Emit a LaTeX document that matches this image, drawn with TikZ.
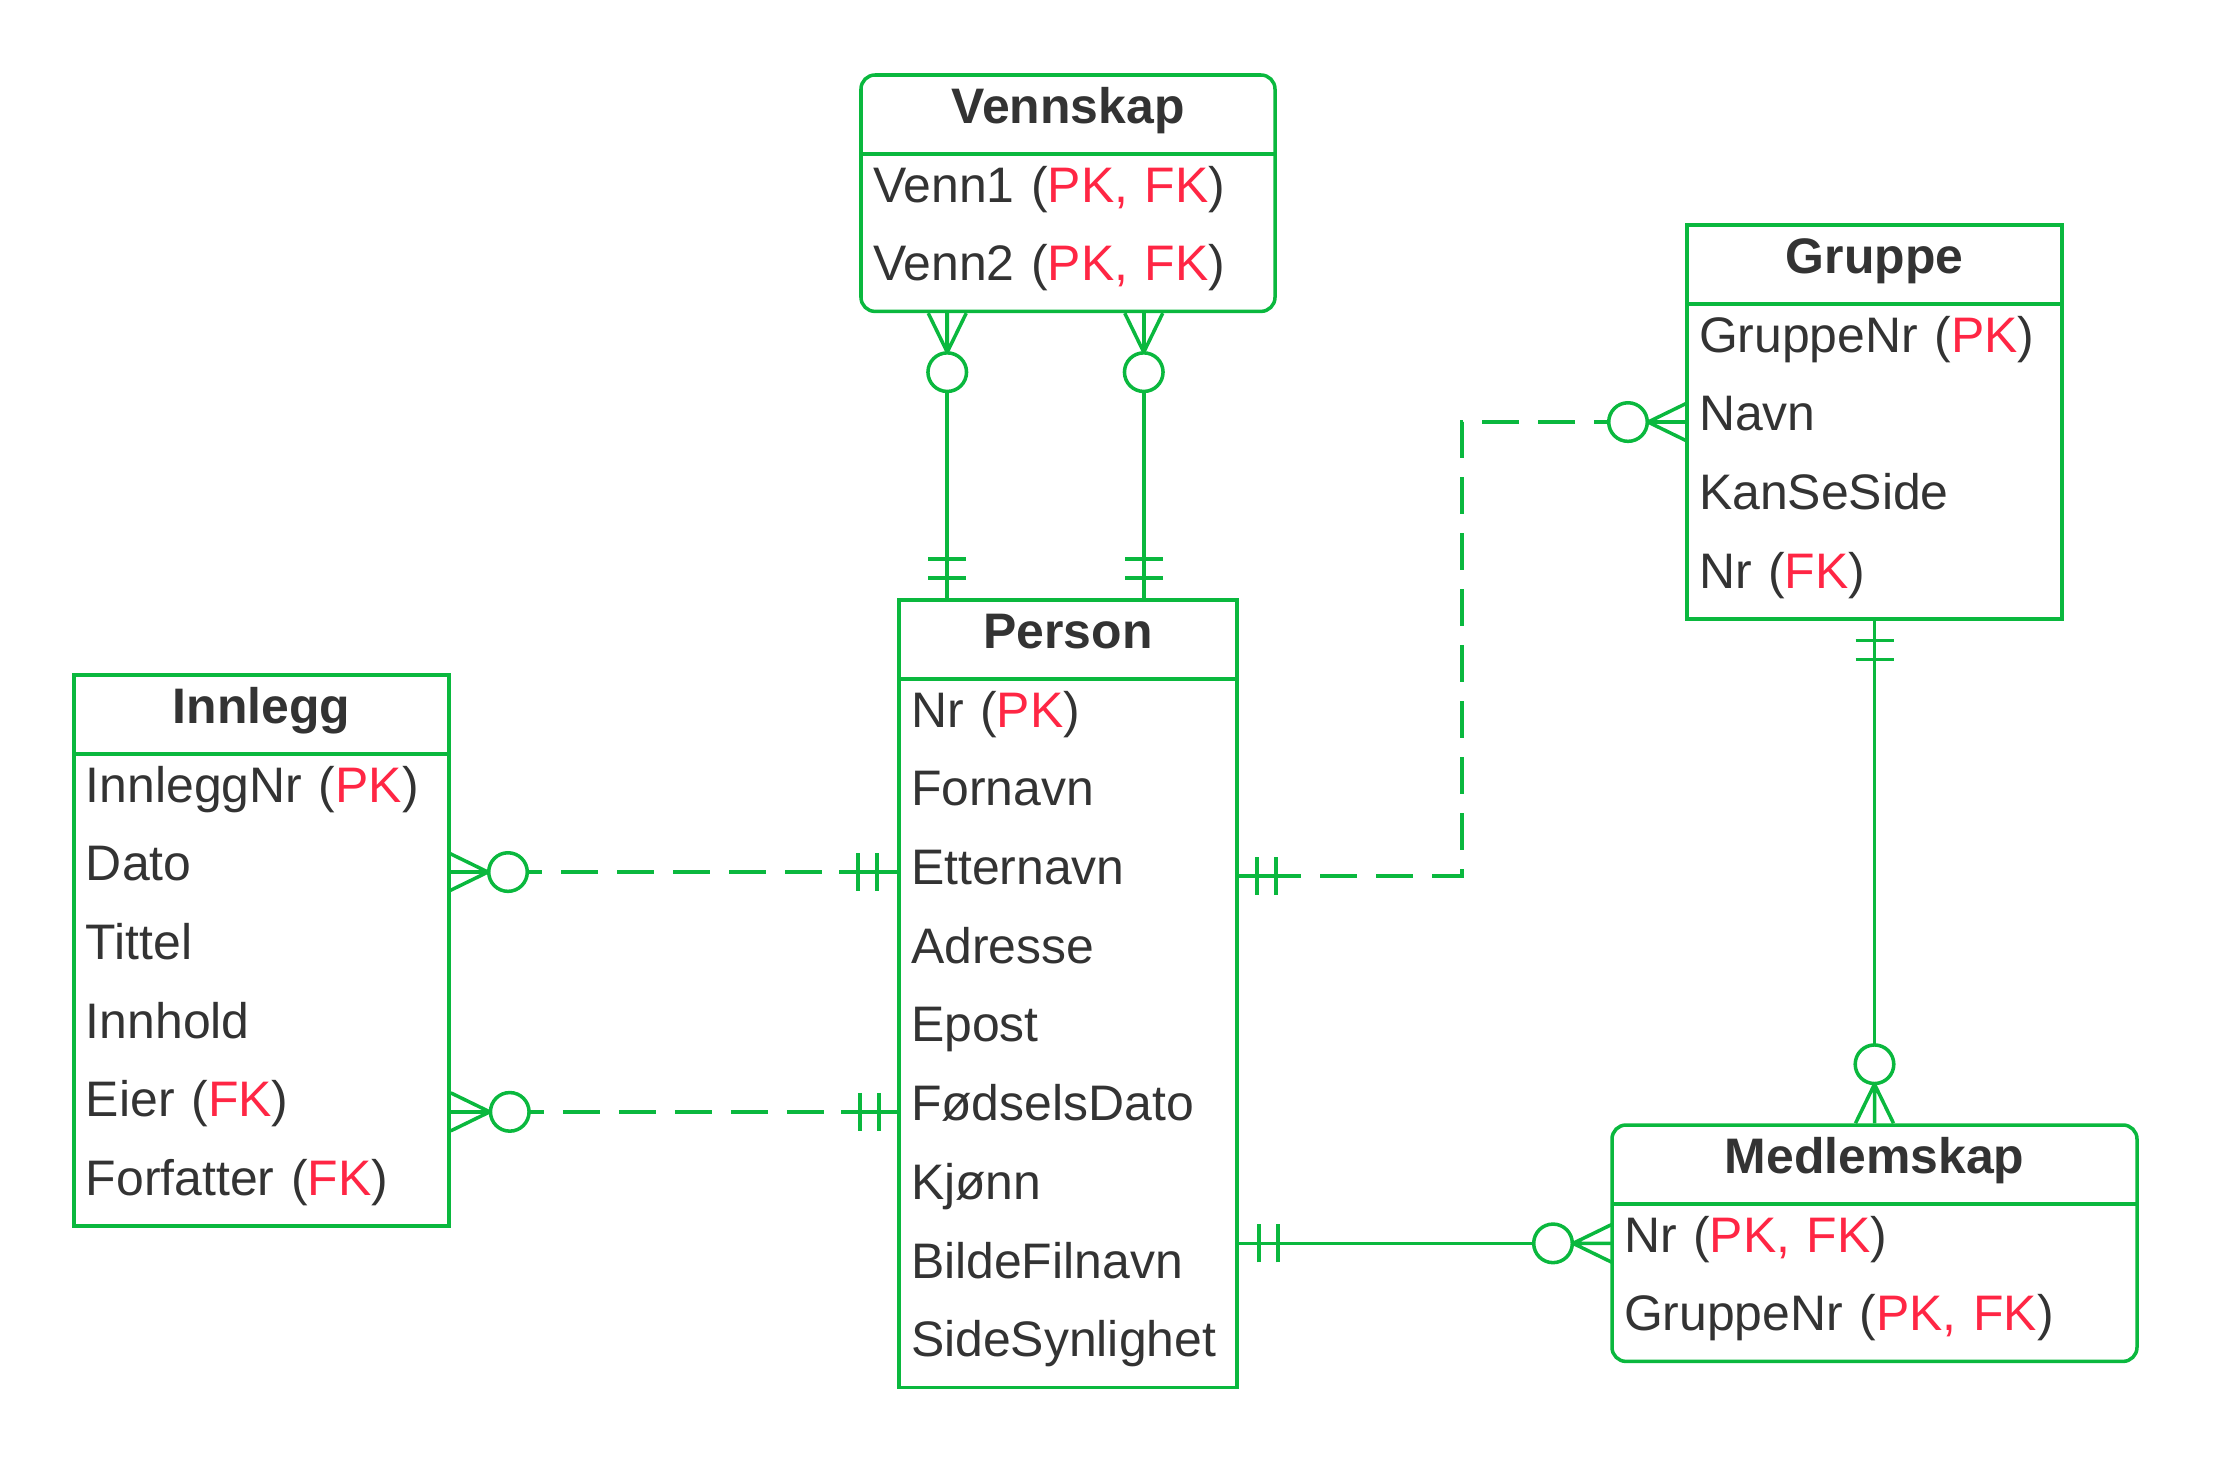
\documentclass[tikz,border=0pt]{standalone}
\usepackage{fontspec}
\setmainfont{Liberation Sans}
\usetikzlibrary{positioning, fit, calc}

\definecolor{ergreen}{RGB}{10,184,62}
\definecolor{keyred}{RGB}{255,38,68}
\definecolor{ertext}{RGB}{51,51,51}
\newcommand{\kred}[1]{\textcolor{keyred}{#1}}

\begin{document}
\begin{tikzpicture}[
    % Styles
    erline/.style={ % Box outlines and connectors
        draw=ergreen,
        line width=1pt
    },
    erdash/.style={ % Non-identifying relations
        dash pattern=on 0.37cm off 0.19cm
    },
    head/.style={ % Entity title
        minimum width=#1,
        minimum height=0.79cm,
        inner sep=0pt,
        outer sep=0pt,
        text=ertext,
        text height=0.75em,
        text depth=0.25em,
        font=\fontsize{14.2}{17}\selectfont\bfseries
    },
    attr/.style={ % One attribute row
        text width=#1,
        inner xsep=0.12cm,
        inner ysep=0pt,
        outer sep=0pt,
        minimum height=0.787cm,
        align=left,
        text=ertext,
        text height=0.75em,
        text depth=0.25em,
        font=\fontsize{14.2}{17}\selectfont
    },
    ent/.style={ % Outline round title and rows
        erline,
        inner sep=0pt
    },
    onlyone/.pic={ % Mandatory one
        \draw[erline] (0,0) -- (0.58,0);
        \draw[erline] (0.2,-0.19) -- (0.2,0.19) (0.39,-0.19) -- (0.39,0.19);
    },
    zeromany/.pic={ % Zero or many
        \draw[erline] (0,0.19) -- (0.39,0) -- (0,-0.19) (0,0) -- (0.39,0);
        \draw[erline, fill=white] (0.59,0) circle (0.193);
    }
]
    \useasboundingbox (0,0) rectangle (22.13,-14.63);

    % Vennskap
    \node[head=4.14cm] (ven0) at (10.68,-1.145) {Vennskap};
    \foreach \t [count=\i] in {{Venn1 (\kred{PK, FK})}, {Venn2 (\kred{PK, FK})}} {
        \pgfmathtruncatemacro\j{\i-1}
        \node[attr=3.90cm, below=0pt of ven\j] (ven\i) {\t};
    }
    \node[ent, rounded corners=0.14cm, fit=(ven0)(ven2)] (ven) {};
    \draw[erline] (ven0.south west) -- (ven0.south east);

    % Person
    \node[head=3.38cm] (per0) at (10.68,-6.395) {Person};
    \foreach \t [count=\i] in {{Nr (\kred{PK})}, Fornavn, Etternavn, Adresse, Epost,
            FødselsDato, Kjønn, BildeFilnavn, SideSynlighet} {
        \pgfmathtruncatemacro\j{\i-1}
        \node[attr=3.14cm, below=0pt of per\j] (per\i) {\t};
    }
    \node[ent, fit=(per0)(per9)] (per) {};
    \draw[erline] (per0.south west) -- (per0.south east);

    % Innlegg
    \node[head=3.75cm] (inn0) at (2.615,-7.145) {Innlegg};
    \foreach \t [count=\i] in {{InnleggNr (\kred{PK})}, Dato, Tittel, Innhold,
            {Eier (\kred{FK})}, {Forfatter (\kred{FK})}} {
        \pgfmathtruncatemacro\j{\i-1}
        \node[attr=3.51cm, below=0pt of inn\j] (inn\i) {\t};
    }
    \node[ent, fit=(inn0)(inn6)] (inn) {};
    \draw[erline] (inn0.south west) -- (inn0.south east);

    % Gruppe
    \node[head=3.75cm] (gru0) at (18.745,-2.645) {Gruppe};
    \foreach \t [count=\i] in {{GruppeNr (\kred{PK})}, Navn, KanSeSide, {Nr (\kred{FK})}} {
        \pgfmathtruncatemacro\j{\i-1}
        \node[attr=3.51cm, below=0pt of gru\j] (gru\i) {\t};
    }
    \node[ent, fit=(gru0)(gru4)] (gru) {};
    \draw[erline] (gru0.south west) -- (gru0.south east);

    % Medlemskap
    \node[head=5.25cm] (med0) at (18.745,-11.645) {Medlemskap};
    \foreach \t [count=\i] in {{Nr (\kred{PK, FK})}, {GruppeNr (\kred{PK, FK})}} {
        \pgfmathtruncatemacro\j{\i-1}
        \node[attr=5.01cm, below=0pt of med\j] (med\i) {\t};
    }
    \node[ent, rounded corners=0.14cm, fit=(med0)(med2)] (med) {};
    \draw[erline] (med0.south west) -- (med0.south east);

    % Vennskap - Person
    \coordinate (vp1) at ([xshift=0.5cm]per.north west);
    \coordinate (vp2) at ([xshift=-0.95cm]per.north east);
    \foreach \c in {vp1, vp2} {
        \draw[erline] (\c |- ven.south) -- (\c);
        \pic[rotate=-90] at (\c |- ven.south) {zeromany};
        \pic[rotate=90] at (\c) {onlyone};
    }

    % Innlegg - Person
    \draw[erline, erdash] (inn2.east) -- (inn2.east -| per.west);
    \pic at (inn2.east) {zeromany};
    \pic[rotate=180] at (inn2.east -| per.west) {onlyone};
    \draw[erline, erdash] (per6.west -| inn.east) -- (per6.west);
    \pic at (per6.west -| inn.east) {zeromany};
    \pic[rotate=180] at (per6.west) {onlyone};

    % Gruppe - Person
    \draw[erline, erdash] (gru2.west) -- ++(-2.25,0) |- (per3.east);
    \pic[rotate=180] at (gru2.west) {zeromany};
    \pic at (per3.east) {onlyone};

    % Gruppe - Medlemskap
    \draw[erline] (gru.south) -- (med.north);
    \pic[rotate=-90] at (gru.south) {onlyone};
    \pic[rotate=90] at (med.north) {zeromany};

    % Person - Medlemskap
    \draw[erline] (per.east |- med1.west) -- (med1.west);
    \pic at (per.east |- med1.west) {onlyone};
    \pic[rotate=180] at (med1.west) {zeromany};

\end{tikzpicture}
\end{document}
